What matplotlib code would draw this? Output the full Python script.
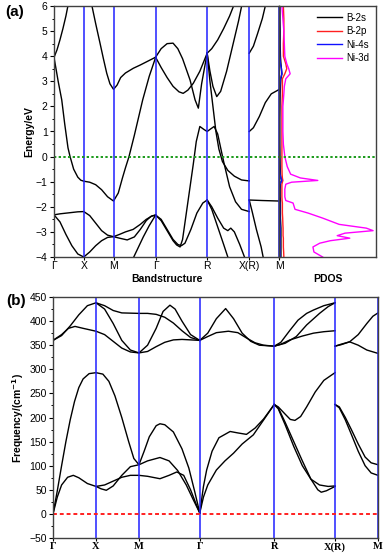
import matplotlib
matplotlib.use('Agg')
import matplotlib.pyplot as plt
from matplotlib.ticker import MultipleLocator

plt.rcParams['font.family'] = ['Liberation Sans', 'DejaVu Sans']

kpath = [0.0, 0.5, 1.0, 1.707, 2.573, 3.280, 3.780]
klabels = ['Γ', 'X', 'M', 'Γ', 'R', 'X(R)', 'M']

# electronic bands, (k, E/eV)
eb_01 = [(0, 3.95), (0.05, 4.25), (0.1, 4.65), (0.15, 5.1), (0.2, 5.6), (0.25, 6.2)]
eb_02 = [(0, 3.95), (0.03, 3.55), (0.07, 3.0), (0.13, 2.26), (0.18, 1.3), (0.235, 0.35),
         (0.27, 0.0), (0.33, -0.5), (0.4, -0.82), (0.45, -0.94), (0.5, -0.98), (0.6, -1.02),
         (0.7, -1.12), (0.8, -1.32), (0.9, -1.6), (1.0, -1.77), (1.08, -1.45), (1.15, -0.85),
         (1.2, -0.45), (1.26, 0.0), (1.35, 0.85), (1.49, 2.26), (1.6, 3.2), (1.707, 3.95)]
eb_03 = [(0.62, 6.2), (0.7, 5.3), (0.773, 4.52), (0.83, 3.9), (0.886, 3.32), (0.94, 2.9),
         (1.0, 2.68), (1.06, 2.85), (1.12, 3.15), (1.2, 3.33), (1.333, 3.52), (1.45, 3.65),
         (1.558, 3.78), (1.707, 3.96)]
eb_04 = [(1.707, 3.96), (1.8, 4.3), (1.9, 4.5), (2.0, 4.52), (2.08, 4.3), (2.16, 3.9),
         (2.286, 3.05), (2.37, 2.26), (2.425, 1.93), (2.48, 2.9), (2.573, 4.12)]
eb_05 = [(1.707, 3.96), (1.8, 3.55), (1.9, 3.15), (2.0, 2.8), (2.1, 2.58), (2.17, 2.52),
         (2.25, 2.65), (2.34, 2.92), (2.45, 3.4), (2.573, 4.12)]
eb_06 = [(1.707, -2.33), (1.8, -2.55), (1.9, -2.95), (2.0, -3.35), (2.06, -3.52), (2.118, -3.6),
         (2.16, -3.3), (2.22, -2.3), (2.28, -1.3), (2.34, -0.3), (2.39, 0.6), (2.45, 1.2),
         (2.52, 1.08), (2.573, 1.0), (2.63, 1.1), (2.69, 1.2), (2.75, 0.9), (2.85, -0.2),
         (2.95, -1.2), (3.05, -1.8), (3.15, -2.1), (3.28, -2.19)]
eb_07 = [(1.707, -2.33), (1.8, -2.5), (1.9, -2.9), (2.0, -3.3), (2.08, -3.5), (2.14, -3.55),
         (2.2, -3.45), (2.3, -2.9), (2.4, -2.25), (2.5, -1.85), (2.573, -1.73)]
eb_08 = [(0, -2.32), (0.1, -2.28), (0.25, -2.24), (0.4, -2.2), (0.5, -2.19), (0.6, -2.35),
         (0.7, -2.65), (0.8, -2.95), (0.9, -3.13), (1.0, -3.19), (1.1, -3.25), (1.23, -3.32),
         (1.35, -3.2), (1.45, -2.9), (1.55, -2.55), (1.63, -2.38), (1.707, -2.33)]
eb_09 = [(0, -2.32), (0.1, -2.6), (0.2, -3.1), (0.3, -3.55), (0.4, -3.88), (0.5, -4.0),
         (0.6, -3.8), (0.7, -3.55), (0.8, -3.35), (0.9, -3.22), (1.0, -3.19), (1.1, -3.1),
         (1.2, -3.0), (1.33, -2.9), (1.45, -2.7), (1.55, -2.5), (1.65, -2.36), (1.707, -2.33)]
eb_10 = [(1.3, -4.2), (1.4, -3.7), (1.5, -3.2), (1.6, -2.75), (1.707, -2.33)]
eb_11 = [(2.573, 4.12), (2.65, 4.3), (2.75, 4.65), (2.85, 5.1), (2.95, 5.6), (3.05, 6.2)]
eb_12 = [(2.573, 4.12), (2.62, 3.4), (2.67, 2.8), (2.734, 2.39), (2.8, 2.6), (2.9, 3.4),
         (3.0, 4.4), (3.1, 5.4), (3.17, 6.2)]
eb_13 = [(2.573, 4.12), (2.62, 3.0), (2.67, 2.0), (2.72, 1.0), (2.77, 0.3), (2.83, -0.2),
         (2.92, -0.55), (3.03, -0.78), (3.15, -0.93), (3.28, -0.97)]
eb_14 = [(2.573, -1.73), (2.65, -2.0), (2.75, -2.45), (2.85, -2.85), (2.92, -2.95),
         (2.97, -2.85), (3.03, -3.0), (3.12, -3.5), (3.2, -4.0), (3.24, -4.2)]
eb_15 = [(2.573, -1.73), (2.65, -2.1), (2.75, -2.8), (2.85, -3.5), (2.92, -4.0), (2.95, -4.2)]
eb_16 = [(3.28, 4.12), (3.35, 4.4), (3.42, 4.9), (3.5, 5.5), (3.57, 6.2)]
eb_17 = [(3.28, 1.0), (3.35, 1.15), (3.45, 1.6), (3.55, 2.15), (3.65, 2.5), (3.78, 2.67)]
eb_18 = [(3.28, -1.73), (3.5, -1.75), (3.78, -1.77)]
eb_19 = [(3.28, -1.73), (3.33, -2.2), (3.4, -2.9), (3.48, -3.6), (3.53, -4.2)]
e_bands = [eb_01, eb_02, eb_03, eb_04, eb_05, eb_06, eb_07, eb_08, eb_09, eb_10,
           eb_11, eb_12, eb_13, eb_14, eb_15, eb_16, eb_17, eb_18, eb_19]

# PDOS (arbitrary units) on energy grid
pdos_e = [6.0, 5.5, 5.0, 4.5, 4.0, 3.7, 3.5, 3.3, 3.1, 2.8, 2.5, 2.0, 1.5, 1.0, 0.5, 0.0,
          -0.4, -0.7, -0.85, -0.95, -1.02, -1.1, -1.3, -1.6, -1.75, -1.85, -2.1, -2.25,
          -2.45, -2.7, -2.85, -2.95, -3.05, -3.15, -3.25, -3.35, -3.45, -3.6, -3.8, -4.0]
pdos_b2s = [0.1, 0.1, 0.12, 0.12, 0.15, 0.2, 0.25, 0.3, 0.2, 0.15, 0.12, 0.1, 0.08, 0.08, 0.08, 0.1,
            0.12, 0.15, 0.2, 0.25, 0.2, 0.15, 0.12, 0.12, 0.15, 0.15, 0.15, 0.15,
            0.15, 0.18, 0.2, 0.2, 0.2, 0.2, 0.2, 0.2, 0.2, 0.2, 0.2, 0.2]
pdos_b2p = [0.45, 0.5, 0.5, 0.45, 0.45, 0.7, 0.8, 0.6, 0.35, 0.35, 0.35, 0.3, 0.3, 0.3, 0.3, 0.3,
            0.3, 0.32, 0.35, 0.4, 0.35, 0.3, 0.3, 0.3, 0.32, 0.35, 0.35, 0.35,
            0.38, 0.4, 0.42, 0.42, 0.42, 0.42, 0.45, 0.45, 0.45, 0.45, 0.48, 0.5]
pdos_ni4s = [0.05, 0.05, 0.05, 0.06, 0.08, 0.15, 0.25, 0.3, 0.15, 0.08, 0.06, 0.05, 0.05, 0.05, 0.05, 0.05,
             0.06, 0.1, 0.2, 0.3, 0.2, 0.1, 0.06, 0.05, 0.06, 0.08, 0.08, 0.08,
             0.08, 0.1, 0.12, 0.12, 0.12, 0.12, 0.12, 0.1, 0.1, 0.1, 0.1, 0.1]
pdos_ni3d = [0.3, 0.4, 0.5, 0.55, 0.6, 0.8, 1.0, 1.15, 0.7, 0.55, 0.5, 0.4, 0.4, 0.4, 0.45, 0.6,
             0.85, 1.2, 2.2, 4.0, 1.3, 0.7, 0.6, 0.6, 0.7, 1.45, 1.65, 3.0,
             4.5, 6.2, 9.0, 9.7, 6.8, 6.0, 7.3, 5.3, 4.2, 3.5, 3.6, 4.5]

# phonon branches, (k, freq/cm-1)
ph_01 = [(0, 360), (0.1, 370), (0.2, 390), (0.3, 413), (0.4, 432), (0.5, 438), (0.6, 432),
         (0.7, 422), (0.8, 417), (1.0, 416), (1.1, 416), (1.2, 414), (1.3, 408), (1.4, 396),
         (1.5, 380), (1.6, 366), (1.707, 360)]
ph_02 = [(0, 360), (0.1, 372), (0.18, 385), (0.256, 389), (0.35, 385), (0.5, 379), (0.6, 372),
         (0.7, 358), (0.8, 344), (0.9, 336), (1.0, 334), (1.1, 337), (1.2, 347), (1.3, 356),
         (1.4, 361), (1.5, 362), (1.707, 360)]
ph_03 = [(0.5, 438), (0.6, 425), (0.7, 395), (0.8, 360), (0.9, 340), (1.0, 334), (1.1, 350),
         (1.2, 385), (1.28, 420), (1.36, 433), (1.42, 425), (1.5, 400), (1.6, 372), (1.707, 360)]
ph_04 = [(0, 0), (0.05, 48), (0.1, 100), (0.15, 150), (0.2, 195), (0.25, 233), (0.3, 262),
         (0.35, 280), (0.42, 291), (0.5, 293), (0.58, 290), (0.65, 275), (0.72, 245), (0.8, 200),
         (0.88, 150), (0.94, 115), (1.0, 102), (1.06, 130), (1.12, 160), (1.2, 183), (1.244, 187),
         (1.3, 185), (1.4, 170), (1.5, 135), (1.58, 95), (1.65, 45), (1.707, 2)]
ph_05 = [(0, 0), (0.05, 35), (0.1, 60), (0.17, 76), (0.236, 80), (0.3, 75), (0.4, 63), (0.5, 57),
         (0.6, 60), (0.7, 68), (0.8, 76), (0.9, 80), (1.0, 80), (1.1, 78), (1.244, 73), (1.35, 80),
         (1.44, 87), (1.52, 80), (1.6, 50), (1.67, 18), (1.707, 2)]
ph_06 = [(0.5, 57), (0.56, 52), (0.62, 49), (0.7, 58), (0.8, 80), (0.9, 98), (1.0, 102),
         (1.1, 110), (1.244, 117), (1.35, 110), (1.45, 90), (1.55, 60), (1.63, 30), (1.707, 2)]
ph_07 = [(1.707, 360), (1.8, 375), (1.9, 405), (2.008, 426), (2.1, 405), (2.2, 375), (2.3, 358),
         (2.4, 350), (2.573, 348)]
ph_08 = [(1.707, 360), (1.8, 368), (1.9, 376), (2.04, 379), (2.15, 376), (2.25, 365), (2.35, 355),
         (2.45, 350), (2.573, 348)]
ph_09 = [(2.573, 348), (2.65, 356), (2.756, 381), (2.85, 402), (2.95, 416), (3.03, 423),
         (3.15, 432), (3.28, 438)]
ph_10 = [(2.573, 348), (2.7, 354), (2.83, 368), (2.95, 392), (3.1, 416), (3.2, 430), (3.28, 438)]
ph_11 = [(2.573, 348), (2.65, 352), (2.756, 361), (2.9, 369), (3.03, 375), (3.15, 378), (3.28, 380)]
ph_12 = [(3.28, 348), (3.35, 352), (3.45, 357), (3.55, 350), (3.65, 340), (3.78, 333)]
ph_13 = [(3.28, 348), (3.35, 351), (3.45, 357), (3.55, 372), (3.65, 395), (3.72, 410), (3.78, 417)]
ph_14 = [(1.707, 2), (1.75, 57), (1.787, 91), (1.85, 130), (1.93, 158), (2.06, 171), (2.15, 168),
         (2.25, 165), (2.35, 178), (2.45, 197), (2.573, 227)]
ph_15 = [(1.707, 2), (1.75, 35), (1.8, 60), (1.9, 91), (2.0, 110), (2.1, 126), (2.2, 145),
         (2.33, 164), (2.45, 195), (2.573, 227)]
ph_16 = [(2.573, 227), (2.62, 222), (2.7, 207), (2.76, 196), (2.814, 194), (2.88, 202),
         (2.95, 222), (3.05, 253), (3.15, 277), (3.28, 293)]
ph_17 = [(2.573, 227), (2.62, 220), (2.7, 190), (2.8, 150), (2.9, 110), (3.0, 72), (3.08, 50),
         (3.12, 45), (3.18, 48), (3.28, 57)]
ph_18 = [(2.573, 227), (2.62, 218), (2.7, 185), (2.8, 140), (2.9, 100), (3.0, 72), (3.1, 60),
         (3.2, 57), (3.28, 58)]
ph_19 = [(3.28, 227), (3.33, 222), (3.4, 200), (3.47, 175), (3.55, 145), (3.63, 118), (3.7, 106),
         (3.78, 102)]
ph_20 = [(3.28, 227), (3.33, 220), (3.4, 195), (3.47, 165), (3.55, 130), (3.63, 100), (3.7, 85),
         (3.78, 80)]
ph_bands = [ph_01, ph_02, ph_03, ph_04, ph_05, ph_06, ph_07, ph_08, ph_09, ph_10,
            ph_11, ph_12, ph_13, ph_14, ph_15, ph_16, ph_17, ph_18, ph_19, ph_20]

spine_col = '#404040'
fig = plt.figure(figsize=(3.87, 5.54), dpi=100)

# (a) band structure
ax1 = fig.add_axes([54/387, 1-257/554, 225/387, 251/554])
for b in e_bands:
    k, e = zip(*b)
    ax1.plot(k, e, color='k', lw=1.0)
for kp in kpath[1:]:
    ax1.axvline(kp, color='#2020ff', lw=1.1)
ax1.axhline(0, color='#1a9a1a', lw=1.4, ls=(0, (1.2, 1.2)))
ax1.set_xlim(0, kpath[-1])
ax1.set_ylim(-4, 6)
ax1.set_xticks(kpath)
ax1.set_xticklabels(klabels, fontsize=7.5)
ax1.yaxis.set_major_locator(MultipleLocator(1))
ax1.yaxis.set_minor_locator(MultipleLocator(0.5))
ax1.tick_params(axis='y', which='major', direction='out', length=3, width=0.8, labelsize=7.5, pad=1.5)
ax1.tick_params(axis='y', which='minor', direction='out', length=1.8, width=0.7)
ax1.tick_params(axis='x', direction='out', length=2, width=0.8, pad=1)
ax1.set_ylabel('Energy/eV', fontsize=7.5, fontweight='bold', labelpad=1)
ax1.set_xlabel('Bandstructure', fontsize=7.5, fontweight='bold', labelpad=2)
for s in ax1.spines.values():
    s.set_color(spine_col)
    s.set_linewidth(1.0)

# PDOS
ax2 = fig.add_axes([279/387, 1-257/554, 97/387, 251/554], sharey=ax1)
ax2.plot(pdos_b2s, pdos_e, color='k', lw=1.0, label='B-2s')
ax2.plot(pdos_b2p, pdos_e, color='#ff2020', lw=1.0, label='B-2p')
ax2.plot(pdos_ni4s, pdos_e, color='#1010ff', lw=1.0, label='Ni-4s')
ax2.plot(pdos_ni3d, pdos_e, color='#ff00ff', lw=1.0, label='Ni-3d')
ax2.axhline(0, color='#1a9a1a', lw=1.4, ls=(0, (1.2, 1.2)))
ax2.set_xlim(0, 10)
ax2.set_xticks([])
ax2.tick_params(axis='y', which='both', left=False, labelleft=False)
ax2.set_xlabel('PDOS', fontsize=7.5, fontweight='bold', labelpad=12)
ax2.legend(loc='upper right', fontsize=7, frameon=False, handlelength=2.6,
           handletextpad=0.4, labelspacing=0.35, borderaxespad=0.3)
for s in ax2.spines.values():
    s.set_color(spine_col)
    s.set_linewidth(1.0)

# (b) phonon dispersion
ax3 = fig.add_axes([53/387, 1-538/554, 325/387, 241/554])
for b in ph_bands:
    k, f = zip(*b)
    ax3.plot(k, f, color='k', lw=1.0)
for kp in kpath[1:]:
    ax3.axvline(kp, color='#2020ff', lw=1.1)
ax3.axhline(0, color='#ff2020', lw=1.4, ls=(0, (2, 1.5)))
ax3.set_xlim(0, kpath[-1])
ax3.set_ylim(-50, 450)
ax3.set_xticks(kpath)
ax3.set_xticklabels(klabels, fontsize=7.5, fontweight='bold', family='Liberation Serif')
ax3.yaxis.set_major_locator(MultipleLocator(50))
ax3.yaxis.set_minor_locator(MultipleLocator(25))
ax3.tick_params(axis='y', which='major', direction='out', length=3, width=0.8, labelsize=7.5, pad=1.5)
ax3.tick_params(axis='y', which='minor', direction='out', length=1.8, width=0.7)
ax3.tick_params(axis='x', direction='out', length=2, width=0.8, pad=1)
ax3.set_ylabel(r'Frequency/(cm$^{\mathbf{-1}}$)', fontsize=7.5, fontweight='bold', labelpad=2)
for s in ax3.spines.values():
    s.set_color(spine_col)
    s.set_linewidth(1.0)

fig.text(15/387, 1-12/554, '(a)', fontsize=11, fontweight='bold', ha='center', va='center')
fig.text(16/387, 1-301/554, '(b)', fontsize=11, fontweight='bold', ha='center', va='center')

plt.savefig('out.png', dpi=100)
